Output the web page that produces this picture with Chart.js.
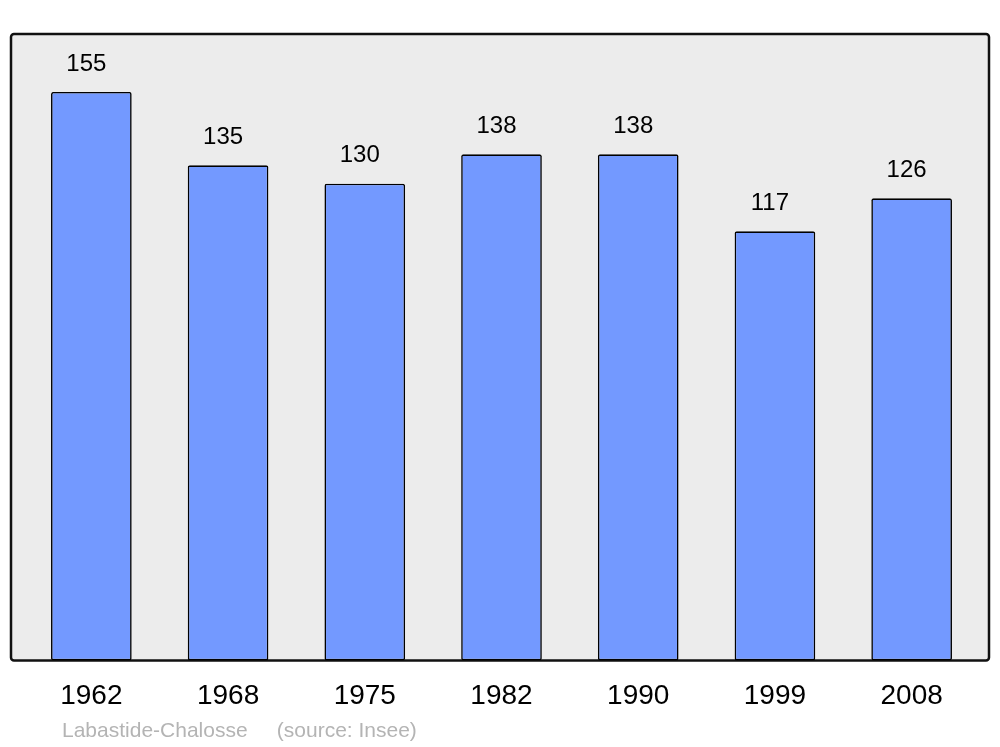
<!DOCTYPE html>
<html>
<head>
<meta charset="utf-8">
<script src="https://cdn.jsdelivr.net/npm/chart.js@4"></script>
<style>
  html, body { margin: 0; padding: 0; background: #fff; }
  #wrap { width: 1000px; height: 747px; }
</style>
</head>
<body>
<div id="wrap"><canvas id="pop-chart" width="1000" height="747"></canvas></div>
<script>
const years = ['1962', '1968', '1975', '1982', '1990', '1999', '2008'];
const population = [155, 135, 130, 138, 138, 117, 126];
const sourceText = 'Labastide-Chalosse     (source: Insee)';

// grey panel behind the bars, a bit wider than the category axis
const panel = {
    id: 'panel',
    beforeDatasetsDraw(chart) {
        const { ctx, chartArea } = chart;
        ctx.save();
        ctx.beginPath();
        ctx.roundRect(11, chartArea.top, 978, chartArea.bottom - chartArea.top, 3);
        ctx.fillStyle = '#ececec';
        ctx.fill();
        ctx.lineWidth = 2.5;
        ctx.strokeStyle = '#111';
        ctx.stroke();
        ctx.restore();
    },
    afterDraw(chart) {
        const { ctx } = chart;
        const meta = chart.getDatasetMeta(0);
        ctx.save();
        ctx.fillStyle = '#000';
        ctx.font = '24px "Liberation Sans", Arial, sans-serif';
        ctx.textAlign = 'center';
        ctx.textBaseline = 'middle';
        meta.data.forEach((bar, i) => {
            ctx.fillText(String(population[i]), bar.x - 5, bar.y - 28);
        });
        ctx.fillStyle = '#b4b4b4';
        ctx.font = '21px "Liberation Sans", Arial, sans-serif';
        ctx.textAlign = 'left';
        ctx.textBaseline = 'alphabetic';
        ctx.fillText(sourceText, 62, 737);
        ctx.restore();
    }
};

let ctx = document.getElementById('pop-chart').getContext('2d');
new Chart(ctx, {
    type: 'bar',
    data: {
        labels: years,
        datasets: [{
            data: population,
            backgroundColor: '#7399ff',
            borderColor: '#000',
            borderWidth: 1.6,
            borderRadius: 2,
            borderSkipped: false,
            barPercentage: 0.59,
            categoryPercentage: 1
        }]
    },
    options: {
        responsive: false,
        animation: false,
        layout: {
            padding: { left: 23, right: 20, top: 34, bottom: 23 }
        },
        plugins: {
            legend: { display: false },
            tooltip: { enabled: false }
        },
        scales: {
            x: {
                grid: { display: false },
                border: { display: false },
                ticks: {
                    color: '#000',
                    padding: 11,
                    font: { family: '"Liberation Sans", Arial, sans-serif', size: 28 },
                    maxRotation: 0
                }
            },
            y: {
                display: false,
                min: 0,
                max: 170.8
            }
        }
    },
    plugins: [panel]
});
</script>
</body>
</html>
